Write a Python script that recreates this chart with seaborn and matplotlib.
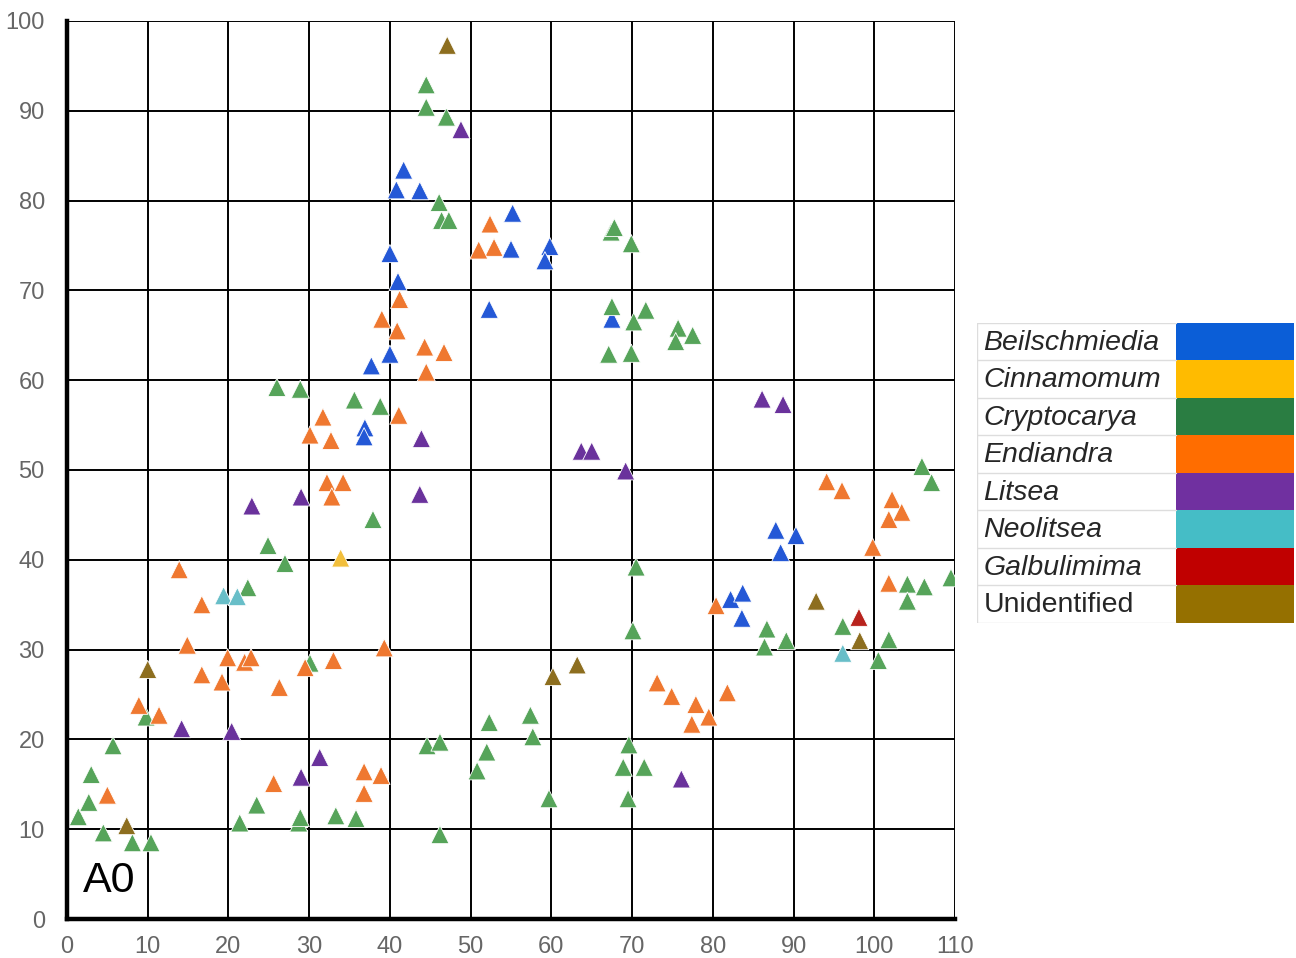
import pandas as pd
import numpy as np
import matplotlib.pyplot as plt
import seaborn as sns
from matplotlib.patches import Rectangle

# Datos por género (x, y)
beil_x = [41.7, 40.8, 43.7, 40.0, 41.0, 40.0, 37.7, 36.9, 36.8, 55.2, 55.0, 52.3, 59.8, 59.2, 67.5,
          87.8, 88.4, 90.3, 82.2, 83.7, 83.6]
beil_y = [83.4, 81.2, 81.1, 74.1, 71.0, 62.9, 61.6, 54.7, 53.7, 78.6, 74.6, 67.9, 74.9, 73.3, 66.8,
          43.3, 40.8, 42.7, 35.6, 36.3, 33.5]

cinn_x = [33.9]
cinn_y = [40.2]

cryp_x = [44.5, 44.5, 47.0, 46.1, 46.4, 47.3,
          67.4, 67.8, 69.9, 67.5, 70.2, 71.7, 75.7, 75.4, 77.5, 67.1, 69.9,
          26.0, 28.9, 35.6, 38.8, 37.9, 24.9, 27.0, 22.4,
          105.9, 107.1, 70.5, 70.1, 86.7, 86.4, 89.1, 96.1, 101.8, 100.5, 104.1, 106.2, 104.1, 109.5,
          1.4, 3.0, 2.7, 4.5, 5.7, 8.1, 10.4, 9.8, 21.4, 23.5, 28.7, 28.9, 33.3, 35.8, 30.1,
          44.6, 46.2, 46.2, 52.3, 52.0, 50.8, 57.4, 57.7, 59.7, 69.6, 68.9, 71.5, 69.5]
cryp_y = [92.9, 90.4, 89.3, 79.8, 77.8, 77.8,
          76.5, 77.0, 75.2, 68.2, 66.5, 67.8, 65.8, 64.3, 65.0, 62.9, 63.0,
          59.2, 59.0, 57.8, 57.1, 44.5, 41.6, 39.6, 36.9,
          50.4, 48.6, 39.2, 32.1, 32.3, 30.3, 31.0, 32.6, 31.1, 28.8, 37.3, 37.0, 35.4, 38.0,
          11.4, 16.1, 13.0, 9.6, 19.3, 8.5, 8.5, 22.5, 10.7, 12.7, 10.7, 11.3, 11.5, 11.2, 28.5,
          19.3, 19.7, 9.4, 21.9, 18.6, 16.5, 22.7, 20.3, 13.4, 19.4, 16.9, 16.9, 13.4]

endi_x = [52.4, 52.9, 51.0, 41.2, 39.0, 40.9, 44.3, 46.7, 44.5,
          41.1, 31.7, 30.1, 32.7, 32.2, 34.2, 32.8, 13.9, 16.7,
          14.9, 19.9, 22.0, 22.8, 29.5, 33.0, 39.3, 16.7, 19.2, 26.3, 8.9, 11.4, 25.6, 36.8, 38.9, 36.8, 5.0,
          94.1, 96.0, 102.2, 103.4, 101.8, 99.8, 101.8, 80.4,
          73.1, 74.9, 77.9, 79.5, 77.4, 81.8]
endi_y = [77.4, 74.8, 74.5, 69.0, 66.8, 65.5, 63.7, 63.1, 60.9,
          56.1, 55.9, 53.9, 53.3, 48.6, 48.6, 47.0, 38.9, 35.0,
          30.5, 29.1, 28.6, 29.1, 28.0, 28.8, 30.2, 27.2, 26.4, 25.8, 23.8, 22.7, 15.1, 16.4, 16.0, 14.0, 13.8,
          48.7, 47.7, 46.7, 45.3, 44.5, 41.4, 37.4, 34.9,
          26.3, 24.8, 23.9, 22.5, 21.7, 25.2]

lits_x = [48.8, 29.0, 22.9, 43.9, 43.7, 14.2, 20.4, 31.3, 29.0, 63.7, 65.0, 69.2, 86.1, 88.7, 76.1]
lits_y = [87.9, 47.0, 46.0, 53.5, 47.3, 21.2, 20.9, 18.0, 15.8, 52.1, 52.1, 49.9, 57.9, 57.3, 15.6]

neol_x = [19.4, 21.1, 96.1]
neol_y = [36.0, 35.9, 29.6]

galb_x = [98.1]
galb_y = [33.6]

unid_x = [47.1, 10.0, 7.4, 60.2, 63.2, 92.8, 98.2]
unid_y = [97.3, 27.8, 10.4, 27.0, 28.3, 35.4, 31.0]

genera = ['Beilschmiedia', 'Cinnamomum', 'Cryptocarya', 'Endiandra',
          'Litsea', 'Neolitsea', 'Galbulimima', 'Unidentified']
marker_colors = ['#2458d6', '#f2bf3c', '#56a45a', '#ef7830', '#6a329c', '#68bec8', '#b8231d', '#8d6e1f']
legend_colors = ['#0b5ed7', '#ffbb00', '#2a7d42', '#ff6d00', '#7030a0', '#45bdc6', '#c00000', '#957000']

xs = [beil_x, cinn_x, cryp_x, endi_x, lits_x, neol_x, galb_x, unid_x]
ys = [beil_y, cinn_y, cryp_y, endi_y, lits_y, neol_y, galb_y, unid_y]

df = pd.concat([pd.DataFrame({'x': x, 'y': y, 'genus': g}) for g, x, y in zip(genera, xs, ys)],
               ignore_index=True)

sns.set_style('white')
plt.rcParams['font.family'] = ['Liberation Sans', 'DejaVu Sans']

fig = plt.figure(figsize=(12.96, 9.58), dpi=100)
ax = fig.add_axes([0.0517, 0.0407, 0.6852, 0.9374])

sns.scatterplot(data=df, x='x', y='y', hue='genus', hue_order=genera,
                palette=dict(zip(genera, marker_colors)), marker='^', s=170,
                edgecolor='white', linewidth=0.6, legend=False, ax=ax, zorder=3)

ax.set_xlim(0, 110)
ax.set_ylim(0, 100)
ax.set_xticks(np.arange(0, 111, 10))
ax.set_yticks(np.arange(0, 101, 10))
ax.grid(True, color='black', linewidth=1.4, zorder=1)
ax.set_axisbelow(True)
ax.set_xlabel('')
ax.set_ylabel('')
for side in ['top', 'right']:
    ax.spines[side].set_visible(False)
for side in ['left', 'bottom']:
    ax.spines[side].set_linewidth(3.2)
    ax.spines[side].set_color('black')
    ax.spines[side].set_zorder(4)
ax.tick_params(axis='both', length=4, width=3, color='black', labelsize=17,
               labelcolor='#666666')
ax.tick_params(axis='y', pad=12)
ax.tick_params(axis='x', pad=8)

ax.text(2, 2.0, 'A0', fontsize=31, color='black', ha='left', va='bottom', zorder=5)

# Leyenda tipo tabla
lax = fig.add_axes([0.7539, 0.3497, 0.2446, 0.3132])
lax.set_xlim(0, 1)
lax.set_ylim(0, len(genera))
lax.axis('off')
for i, (g, c) in enumerate(zip(genera, legend_colors)):
    yy = len(genera) - i - 1
    lax.add_patch(Rectangle((0.627, yy), 0.373, 1, facecolor=c, edgecolor='none'))
    lax.text(0.02, yy + 0.47, g, fontsize=20.5, va='center', ha='left',
             style='normal' if g == 'Unidentified' else 'italic')
    lax.plot([0, 0.627], [yy, yy], color='#dddddd', lw=1)
lax.plot([0, 0.627], [len(genera), len(genera)], color='#dddddd', lw=1)
lax.plot([0, 0], [0, len(genera)], color='#dddddd', lw=1)

fig.savefig('out.png', dpi=100)
plt.close(fig)
